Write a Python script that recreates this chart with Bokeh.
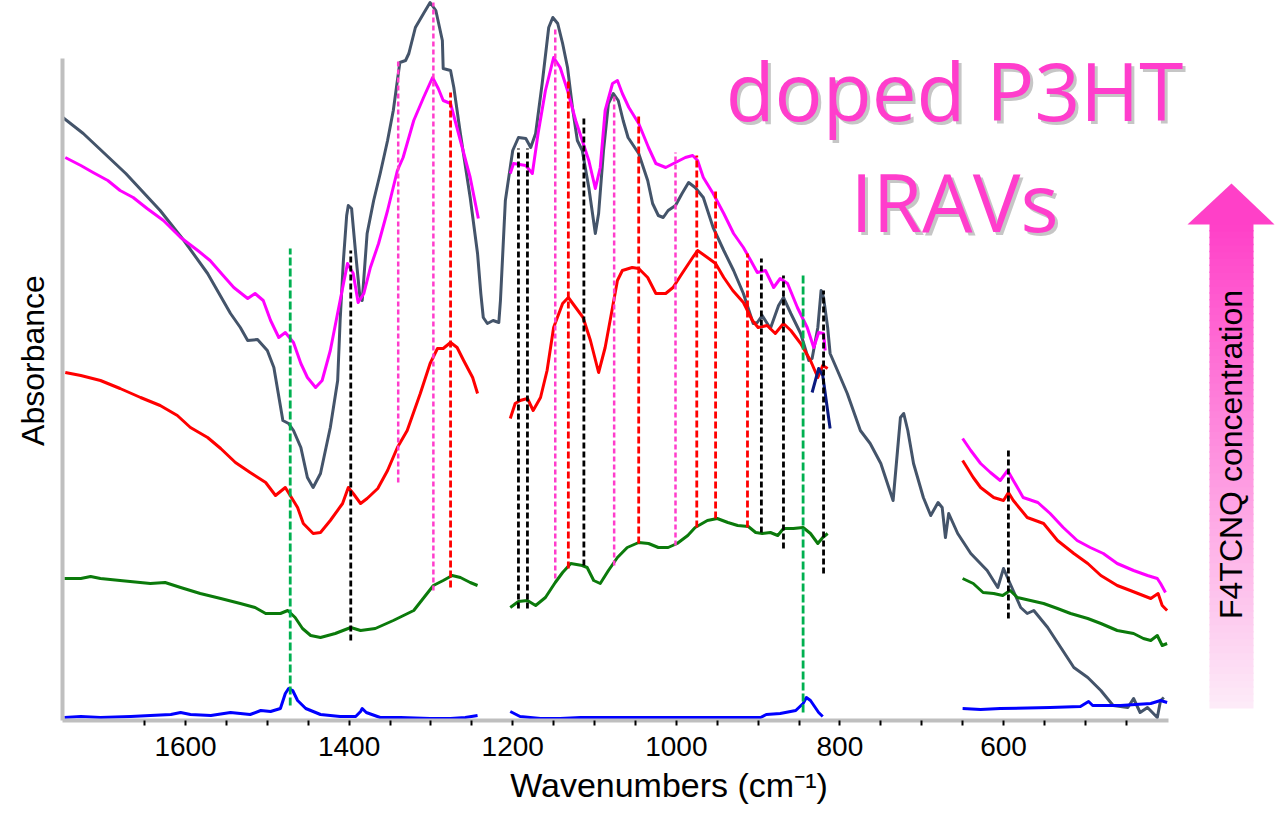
import numpy as np
from bokeh.plotting import figure
from bokeh.models import Range1d, FixedTicker, Label
from bokeh.embed import file_html
from bokeh.resources import INLINE

# ---------------- data (wavenumber cm^-1, absorbance in milli-units) ----------------
GRAY = [(1750,603),(1725,587),(1673,547),(1631,510),(1602,480),(1573,447),(1545,407),(1533,393),
        (1524,380),(1512,381),(1500,370),(1492,353),(1481,300),(1474,297),(1468,290),(1459,273),
        (1451,243),(1444,233),(1435,247),(1423,293),(1414,340),(1411,400),(1407,460),(1403,505),
        (1401,515),(1397,512),(1392,467),(1387,425),(1384,420),(1378,487),(1370,520),(1362,547),
        (1353,580),(1346,610),(1338,658),(1331,660),(1327,667),(1319,693),(1309,707),(1301,718),
        (1294,710),(1286,680),(1285,652),(1276,650),(1272,633),(1264,587),(1252,523),(1243,467),
        (1239,427),(1236,403),(1231,397),(1224,400),(1217,398),(1215,420),(1209,520),(1200,570),
        (1193,583),(1184,582),(1178,573),(1172,587),(1164,637),(1156,693),(1151,703),(1145,697),
        (1139,677),(1133,653),(1127,613),(1121,580),(1115,570),(1107,533),(1099,487),(1095,507),
        (1089,570),(1083,617),(1077,627),(1071,620),(1065,600),(1059,583),(1046,567),(1035,540),
        (1029,517),(1022,505),(1016,503),(1010,510),(1001,515),(993,527),(985,538),(977,533),
        (967,523),(955,493),(942,470),(930,450),(918,427),(906,397),(901,398),(895,405),(885,392),
        (875,415),(869,423),(860,407),(848,387),(838,360),(834,362),(827,393),(823,430),(820,423),
        (815,393),(812,367),(803,350),(791,327),(775,290),(763,277),(750,257),(735,220),(726,303),
        (722,307),(717,290),(710,257),(698,223),(689,205),(680,218),(675,213),(671,183),(667,207),
        (656,187),(640,167),(620,150),(607,133),(600,152),(592,137),(579,113),(571,107),(563,110),
        (546,93),(530,73),(514,53),(497,43),(481,30),(466,15),(448,13),(441,22),(433,8),(424,13),
        (412,3),(408,20),(404,23)]

MAGENTA = [
    [(1747,563),(1728,555),(1713,548),(1695,540),(1680,530),(1664,523),(1647,512),(1627,500),
     (1606,483),(1585,470),(1570,460),(1554,445),(1541,433),(1524,422),(1515,427),(1505,420),
     (1496,400),(1486,383),(1478,388),(1468,378),(1459,357),(1451,343),(1441,333),(1433,340),
     (1423,370),(1411,420),(1402,457),(1395,447),(1389,418),(1382,427),(1374,453),(1364,477),
     (1353,510),(1341,550),(1334,563),(1321,600),(1309,623),(1298,643),(1291,632),(1285,620),
     (1276,617),(1264,580),(1252,543),(1242,502)],
    [(1203,547),(1199,557),(1184,555),(1176,547),(1169,587),(1160,630),(1150,663),(1142,653),
     (1133,630),(1123,600),(1115,580),(1107,560),(1099,532),(1093,553),(1087,610),(1078,637),
     (1072,640),(1066,627),(1058,613),(1046,597),(1034,573),(1025,557),(1013,553),(1001,558),
     (989,563),(980,565),(974,560),(967,543),(955,527),(942,507),(930,487),(918,473),(909,460),
     (901,448),(891,450),(881,433),(873,442),(864,437),(852,413),(840,393),(832,373),(826,388),
     (820,387),(818,370)],
    [(650,282),(640,270),(628,257),(616,248),(604,240),(595,250),(588,240),(576,223),(558,218),
     (543,207),(527,193),(510,180),(494,173),(478,167),(461,157),(441,150),(424,145),(412,142),
     (408,137),(402,128)],
]

RED = [
    [(1747,348),(1728,345),(1704,340),(1680,332),(1655,323),(1631,315),(1610,305),(1594,293),
     (1573,283),(1557,272),(1539,258),(1521,248),(1502,238),(1490,225),(1478,233),(1472,225),
     (1463,213),(1456,197),(1444,187),(1435,188),(1423,200),(1408,217),(1401,233),(1395,227),
     (1386,217),(1378,222),(1365,232),(1353,250),(1341,273),(1329,290),(1313,327),(1301,357),
     (1292,372),(1285,372),(1276,378),(1268,373),(1260,360),(1249,343),(1243,327)],
    [(1203,302),(1197,317),(1191,320),(1182,322),(1175,310),(1166,323),(1158,350),(1150,393),
     (1139,417),(1132,423),(1123,413),(1114,403),(1105,380),(1095,348),(1087,373),(1078,413),
     (1072,440),(1066,450),(1054,453),(1046,452),(1035,443),(1025,427),(1013,427),(1004,433),
     (993,447),(980,463),(974,470),(962,463),(952,457),(942,443),(931,430),(918,418),(907,400),
     (900,393),(889,395),(879,387),(869,397),(860,390),(848,377),(836,360),(827,343),(821,355),
     (815,352)],
    [(650,260),(637,243),(628,233),(612,223),(600,220),(594,228),(588,220),(571,203),(551,197),
     (534,180),(514,167),(497,157),(481,145),(461,135),(445,130),(420,122),(411,127),(406,115),
     (400,110)],
]

NAVY = [(834,328),(826,352),(821,345),(812,292)]

GREEN = [
    [(1748,142),(1728,142),(1716,144),(1704,142),(1680,140),(1643,137),(1625,138),(1606,133),
     (1582,127),(1557,122),(1533,117),(1515,113),(1502,107),(1484,107),(1475,110),(1466,103),
     (1457,92),(1447,85),(1435,83),(1417,87),(1398,93),(1386,90),(1368,92),(1346,100),(1321,110),
     (1297,135),(1285,140),(1274,145),(1264,143),(1252,138),(1243,135)],
    [(1203,113),(1193,119),(1182,120),(1172,115),(1160,123),(1148,138),(1139,148),(1129,157),
     (1115,155),(1109,153),(1101,140),(1093,137),(1083,150),(1072,163),(1060,173),(1046,178),
     (1034,177),(1022,173),(1010,173),(999,177),(986,185),(977,193),(962,200),(950,202),(937,198),
     (925,195),(912,194),(903,188),(895,187),(885,188),(876,185),(869,192),(857,192),(845,193),
     (836,187),(827,177),(821,183),(815,187)],
    [(650,142),(637,137),(625,128),(612,127),(601,125),(592,130),(583,123),(567,120),(551,117),
     (534,112),(518,107),(497,102),(481,97),(461,90),(441,87),(429,82),(420,80),(412,85),
     (406,75),(400,77)],
]

BLUE = [
    [(1748,3),(1728,4),(1704,3),(1667,4),(1643,5),(1618,6),(1606,8),(1594,6),(1569,5),(1545,8),
     (1521,6),(1508,10),(1496,9),(1484,12),(1478,27),(1474,32),(1469,30),(1463,20),(1453,12),
     (1435,6),(1411,4),(1392,4),(1386,9),(1384,12),(1379,8),(1362,3),(1337,3),(1301,2),(1276,2),
     (1258,3),(1243,5)],
    [(1203,9),(1191,4),(1166,2),(1142,2),(1117,3),(1099,3),(1080,3),(1044,3),(995,3),(946,3),
     (909,3),(897,3),(890,6),(873,7),(854,10),(845,17),(841,23),(836,20),(826,8),(821,4)],
    [(650,12),(628,11),(604,12),(543,13),(506,14),(496,19),(491,15),(457,15),(420,17),(408,20),
     (400,18)],
]

# band markers: (wavenumber, bottom, top) in absorbance milli-units
MARK_GREEN = [(1472,15,472),(845,8,448)]
MARK_BLACK = [(1398,80,470),(1193,112,572),(1182,112,572),(1113,155,603),(896,188,462),
              (869,172,445),(820,147,430),(594,102,270)]
MARK_PINK = [(1340,238,660),(1297,130,718),(1148,142,693),(1076,155,627),(1001,175,568)]
MARK_RED = [(1276,133,628),(1132,152,640),(1046,177,607),(975,193,565),(952,202,532),(913,193,467)]

MAJOR_TICKS = [1600, 1400, 1200, 1000, 800, 600]
MINOR_TICKS = [1650, 1550, 1500, 1450, 1350, 1300, 1250, 1150, 1100, 1050, 950, 900, 850,
               750, 700, 650, 550, 500, 450]

TITLE_LINES = ["doped P3HT", "IRAVs"]
ARROW_TEXT = "F4TCNQ concentration"


def series(segments):
    xs, ys = [], []
    for k, seg in enumerate(segments):
        if k:
            xs.append(np.nan)
            ys.append(np.nan)
        for w, a in seg:
            xs.append(w)
            ys.append(a / 1000.0)
    return xs, ys


p = figure(width=1275, height=828, output_backend="svg", toolbar_location=None,
           x_range=Range1d(1750.4, 267.5), y_range=Range1d(0, 0.720),
           min_border_left=62, min_border_right=0, min_border_top=0, min_border_bottom=108)
p.outline_line_color = None
p.grid.visible = False

LW = 3.0
for segs, col in [([GRAY], "#44546A"), (MAGENTA, "#FF00FF"), (RED, "#FF0000"),
                  ([NAVY], "#0A1A7F"), (GREEN, "#0B7A0B"), (BLUE, "#0000FF")]:
    xs, ys = series(segs)
    p.line(xs, ys, line_color=col, line_width=LW, line_join="round")

for marks, col, dash, lw in [(MARK_PINK, "#FF3DCC", "5 3", 2.5), (MARK_RED, "#FF0000", "7 3", 2.8),
                             (MARK_BLACK, "#000000", "6 3", 2.8), (MARK_GREEN, "#00B050", "8 3", 2.8)]:
    w = [m[0] for m in marks]
    p.segment(x0=w, y0=[m[1] / 1000 for m in marks], x1=w, y1=[m[2] / 1000 for m in marks],
              line_color=col, line_width=lw, line_dash=dash)

# axes
xa = p.xaxis[0]
xa.ticker = FixedTicker(ticks=MAJOR_TICKS, minor_ticks=MINOR_TICKS)
xa.bounds = (398, 1750.4)
xa.axis_line_color = "#BFBFBF"
xa.axis_line_width = 4
for attr in ["major", "minor"]:
    setattr(xa, f"{attr}_tick_out", 5)
    setattr(xa, f"{attr}_tick_in", 0)
    setattr(xa, f"{attr}_tick_line_color", "black")
    setattr(xa, f"{attr}_tick_line_width", 2)
xa.major_label_text_font = "Liberation Sans"
xa.major_label_text_font_size = "28px"
xa.major_label_text_color = "black"
xa.major_label_standoff = 11
xa.axis_label = "Wavenumbers (cm\u207b\u00b9)"
xa.axis_label_text_font = "Liberation Sans"
xa.axis_label_text_font_size = "34px"
xa.axis_label_text_font_style = "normal"
xa.axis_label_text_color = "black"
xa.axis_label_standoff = 7

ya = p.yaxis[0]
ya.ticker = FixedTicker(ticks=[])
ya.bounds = (0, 0.662)
ya.axis_line_color = "#BFBFBF"
ya.axis_line_width = 4
ya.major_tick_out = 0
ya.minor_tick_out = 0
ya.axis_label = "Absorbance"
ya.axis_label_text_font = "Liberation Sans"
ya.axis_label_text_font_size = "32px"
ya.axis_label_text_font_style = "normal"
ya.axis_label_text_color = "black"
ya.axis_label_standoff = 12

# title (pink with soft shadow); baselines at 603 / 492 milli-units
for txt, a in zip(TITLE_LINES, [603, 492]):
    p.add_layout(Label(x=660, y=a / 1000, text=txt, x_offset=3, y_offset=25,
                       text_color="#808080", text_alpha=0.45, text_font="Open Sans",
                       text_font_size="80px", text_align="center", text_baseline="alphabetic"))
    p.add_layout(Label(x=660, y=a / 1000, text=txt, y_offset=28, text_color="#FF3DCC",
                       text_font="Open Sans", text_font_size="80px", text_align="center",
                       text_baseline="alphabetic"))

# gradient arrow
shaft_l, shaft_r, head_l, head_r, tip_x = 348.2, 294.4, 375.1, 268.7, 321.3
tip_y, base_y, bottom_y = 0.537, 0.496, 0.012
top_rgb = np.array([255, 64, 200])
bot_rgb = np.array([253, 236, 248])
n = 70
edges = np.linspace(bottom_y, base_y, n + 1)
cols = []
for i in range(n):
    t = (i + 0.5) / n
    c = bot_rgb + (top_rgb - bot_rgb) * t
    cols.append("#%02x%02x%02x" % tuple(int(round(v)) for v in c))
p.quad(left=shaft_l, right=shaft_r, bottom=edges[:-1], top=edges[1:] + 0.0015,
       fill_color=cols, line_color=None)
p.patch([head_l, tip_x, head_r], [base_y, tip_y, base_y], fill_color="#FF40C8", line_color=None)
p.add_layout(Label(x=tip_x, y=0.266, text=ARROW_TEXT, angle=np.pi / 2, text_font="Liberation Sans",
                   text_font_size="32px", text_color="black", text_align="center",
                   text_baseline="middle"))

open("out.html", "w").write(file_html(p, INLINE))
